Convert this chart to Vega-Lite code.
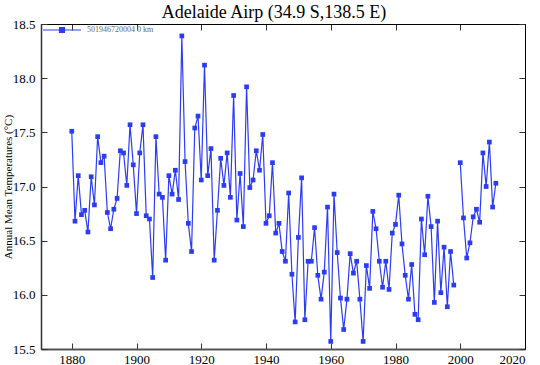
{
  "$schema": "https://vega.github.io/schema/vega-lite/v6.json",
  "width": 484,
  "height": 325,
  "autosize": "none",
  "padding": {"left": 41, "top": 24, "right": 15, "bottom": 16},
  "background": "white",
  "title": {"text": "Adelaide Airp (34.9 S,138.5 E)", "font": "Liberation Serif", "fontSize": 18, "fontWeight": "normal", "color": "black", "offset": -12, "dx": -9},
  "config": {
    "view": {"stroke": "black", "strokeWidth": 1},
    "axis": {"grid": false, "labelFont": "Liberation Serif", "labelFontSize": 13, "labelColor": "black", "titleFont": "Liberation Serif", "titleFontWeight": "normal", "titleColor": "black", "domainColor": "#333", "tickColor": "#333", "tickSize": -6, "tickWidth": 1}
  },
  "data": {"values": [
    {"year": 1880, "temp": 17.51, "station": "501946720004 0 km"},
    {"year": 1881, "temp": 16.68, "station": "501946720004 0 km"},
    {"year": 1882, "temp": 17.10, "station": "501946720004 0 km"},
    {"year": 1883, "temp": 16.74, "station": "501946720004 0 km"},
    {"year": 1884, "temp": 16.78, "station": "501946720004 0 km"},
    {"year": 1885, "temp": 16.58, "station": "501946720004 0 km"},
    {"year": 1886, "temp": 17.09, "station": "501946720004 0 km"},
    {"year": 1887, "temp": 16.83, "station": "501946720004 0 km"},
    {"year": 1888, "temp": 17.46, "station": "501946720004 0 km"},
    {"year": 1889, "temp": 17.22, "station": "501946720004 0 km"},
    {"year": 1890, "temp": 17.28, "station": "501946720004 0 km"},
    {"year": 1891, "temp": 16.76, "station": "501946720004 0 km"},
    {"year": 1892, "temp": 16.61, "station": "501946720004 0 km"},
    {"year": 1893, "temp": 16.79, "station": "501946720004 0 km"},
    {"year": 1894, "temp": 16.89, "station": "501946720004 0 km"},
    {"year": 1895, "temp": 17.33, "station": "501946720004 0 km"},
    {"year": 1896, "temp": 17.31, "station": "501946720004 0 km"},
    {"year": 1897, "temp": 17.01, "station": "501946720004 0 km"},
    {"year": 1898, "temp": 17.57, "station": "501946720004 0 km"},
    {"year": 1899, "temp": 17.20, "station": "501946720004 0 km"},
    {"year": 1900, "temp": 16.75, "station": "501946720004 0 km"},
    {"year": 1901, "temp": 17.31, "station": "501946720004 0 km"},
    {"year": 1902, "temp": 17.57, "station": "501946720004 0 km"},
    {"year": 1903, "temp": 16.73, "station": "501946720004 0 km"},
    {"year": 1904, "temp": 16.70, "station": "501946720004 0 km"},
    {"year": 1905, "temp": 16.16, "station": "501946720004 0 km"},
    {"year": 1906, "temp": 17.46, "station": "501946720004 0 km"},
    {"year": 1907, "temp": 16.93, "station": "501946720004 0 km"},
    {"year": 1908, "temp": 16.90, "station": "501946720004 0 km"},
    {"year": 1909, "temp": 16.32, "station": "501946720004 0 km"},
    {"year": 1910, "temp": 17.10, "station": "501946720004 0 km"},
    {"year": 1911, "temp": 16.93, "station": "501946720004 0 km"},
    {"year": 1912, "temp": 17.15, "station": "501946720004 0 km"},
    {"year": 1913, "temp": 16.88, "station": "501946720004 0 km"},
    {"year": 1914, "temp": 18.39, "station": "501946720004 0 km"},
    {"year": 1915, "temp": 17.23, "station": "501946720004 0 km"},
    {"year": 1916, "temp": 16.66, "station": "501946720004 0 km"},
    {"year": 1917, "temp": 16.40, "station": "501946720004 0 km"},
    {"year": 1918, "temp": 17.54, "station": "501946720004 0 km"},
    {"year": 1919, "temp": 17.65, "station": "501946720004 0 km"},
    {"year": 1920, "temp": 17.06, "station": "501946720004 0 km"},
    {"year": 1921, "temp": 18.12, "station": "501946720004 0 km"},
    {"year": 1922, "temp": 17.10, "station": "501946720004 0 km"},
    {"year": 1923, "temp": 17.35, "station": "501946720004 0 km"},
    {"year": 1924, "temp": 16.32, "station": "501946720004 0 km"},
    {"year": 1925, "temp": 16.78, "station": "501946720004 0 km"},
    {"year": 1926, "temp": 17.26, "station": "501946720004 0 km"},
    {"year": 1927, "temp": 17.01, "station": "501946720004 0 km"},
    {"year": 1928, "temp": 17.31, "station": "501946720004 0 km"},
    {"year": 1929, "temp": 16.90, "station": "501946720004 0 km"},
    {"year": 1930, "temp": 17.84, "station": "501946720004 0 km"},
    {"year": 1931, "temp": 16.69, "station": "501946720004 0 km"},
    {"year": 1932, "temp": 17.12, "station": "501946720004 0 km"},
    {"year": 1933, "temp": 16.63, "station": "501946720004 0 km"},
    {"year": 1934, "temp": 17.92, "station": "501946720004 0 km"},
    {"year": 1935, "temp": 16.99, "station": "501946720004 0 km"},
    {"year": 1936, "temp": 17.06, "station": "501946720004 0 km"},
    {"year": 1937, "temp": 17.33, "station": "501946720004 0 km"},
    {"year": 1938, "temp": 17.15, "station": "501946720004 0 km"},
    {"year": 1939, "temp": 17.48, "station": "501946720004 0 km"},
    {"year": 1940, "temp": 16.66, "station": "501946720004 0 km"},
    {"year": 1941, "temp": 16.73, "station": "501946720004 0 km"},
    {"year": 1942, "temp": 17.22, "station": "501946720004 0 km"},
    {"year": 1943, "temp": 16.57, "station": "501946720004 0 km"},
    {"year": 1944, "temp": 16.66, "station": "501946720004 0 km"},
    {"year": 1945, "temp": 16.40, "station": "501946720004 0 km"},
    {"year": 1946, "temp": 16.31, "station": "501946720004 0 km"},
    {"year": 1947, "temp": 16.94, "station": "501946720004 0 km"},
    {"year": 1948, "temp": 16.19, "station": "501946720004 0 km"},
    {"year": 1949, "temp": 15.75, "station": "501946720004 0 km"},
    {"year": 1950, "temp": 16.53, "station": "501946720004 0 km"},
    {"year": 1951, "temp": 17.08, "station": "501946720004 0 km"},
    {"year": 1952, "temp": 15.77, "station": "501946720004 0 km"},
    {"year": 1953, "temp": 16.31, "station": "501946720004 0 km"},
    {"year": 1954, "temp": 16.31, "station": "501946720004 0 km"},
    {"year": 1955, "temp": 16.62, "station": "501946720004 0 km"},
    {"year": 1956, "temp": 16.18, "station": "501946720004 0 km"},
    {"year": 1957, "temp": 15.96, "station": "501946720004 0 km"},
    {"year": 1958, "temp": 16.21, "station": "501946720004 0 km"},
    {"year": 1959, "temp": 16.81, "station": "501946720004 0 km"},
    {"year": 1960, "temp": 15.57, "station": "501946720004 0 km"},
    {"year": 1961, "temp": 16.93, "station": "501946720004 0 km"},
    {"year": 1962, "temp": 16.39, "station": "501946720004 0 km"},
    {"year": 1963, "temp": 15.97, "station": "501946720004 0 km"},
    {"year": 1964, "temp": 15.68, "station": "501946720004 0 km"},
    {"year": 1965, "temp": 15.96, "station": "501946720004 0 km"},
    {"year": 1966, "temp": 16.38, "station": "501946720004 0 km"},
    {"year": 1967, "temp": 16.20, "station": "501946720004 0 km"},
    {"year": 1968, "temp": 16.31, "station": "501946720004 0 km"},
    {"year": 1969, "temp": 15.96, "station": "501946720004 0 km"},
    {"year": 1970, "temp": 15.57, "station": "501946720004 0 km"},
    {"year": 1971, "temp": 16.27, "station": "501946720004 0 km"},
    {"year": 1972, "temp": 16.06, "station": "501946720004 0 km"},
    {"year": 1973, "temp": 16.77, "station": "501946720004 0 km"},
    {"year": 1974, "temp": 16.61, "station": "501946720004 0 km"},
    {"year": 1975, "temp": 16.31, "station": "501946720004 0 km"},
    {"year": 1976, "temp": 16.07, "station": "501946720004 0 km"},
    {"year": 1977, "temp": 16.31, "station": "501946720004 0 km"},
    {"year": 1978, "temp": 16.05, "station": "501946720004 0 km"},
    {"year": 1979, "temp": 16.57, "station": "501946720004 0 km"},
    {"year": 1980, "temp": 16.65, "station": "501946720004 0 km"},
    {"year": 1981, "temp": 16.92, "station": "501946720004 0 km"},
    {"year": 1982, "temp": 16.47, "station": "501946720004 0 km"},
    {"year": 1983, "temp": 16.18, "station": "501946720004 0 km"},
    {"year": 1984, "temp": 15.96, "station": "501946720004 0 km"},
    {"year": 1985, "temp": 16.28, "station": "501946720004 0 km"},
    {"year": 1986, "temp": 15.82, "station": "501946720004 0 km"},
    {"year": 1987, "temp": 15.77, "station": "501946720004 0 km"},
    {"year": 1988, "temp": 16.70, "station": "501946720004 0 km"},
    {"year": 1989, "temp": 16.37, "station": "501946720004 0 km"},
    {"year": 1990, "temp": 16.91, "station": "501946720004 0 km"},
    {"year": 1991, "temp": 16.63, "station": "501946720004 0 km"},
    {"year": 1992, "temp": 15.93, "station": "501946720004 0 km"},
    {"year": 1993, "temp": 16.68, "station": "501946720004 0 km"},
    {"year": 1994, "temp": 16.02, "station": "501946720004 0 km"},
    {"year": 1995, "temp": 16.44, "station": "501946720004 0 km"},
    {"year": 1996, "temp": 15.89, "station": "501946720004 0 km"},
    {"year": 1997, "temp": 16.40, "station": "501946720004 0 km"},
    {"year": 1998, "temp": 16.09, "station": "501946720004 0 km"},
    {"year": 1999, "temp": null, "station": "501946720004 0 km"},
    {"year": 2000, "temp": 17.22, "station": "501946720004 0 km"},
    {"year": 2001, "temp": 16.71, "station": "501946720004 0 km"},
    {"year": 2002, "temp": 16.34, "station": "501946720004 0 km"},
    {"year": 2003, "temp": 16.48, "station": "501946720004 0 km"},
    {"year": 2004, "temp": 16.72, "station": "501946720004 0 km"},
    {"year": 2005, "temp": 16.79, "station": "501946720004 0 km"},
    {"year": 2006, "temp": 16.67, "station": "501946720004 0 km"},
    {"year": 2007, "temp": 17.31, "station": "501946720004 0 km"},
    {"year": 2008, "temp": 17.00, "station": "501946720004 0 km"},
    {"year": 2009, "temp": 17.41, "station": "501946720004 0 km"},
    {"year": 2010, "temp": 16.81, "station": "501946720004 0 km"},
    {"year": 2011, "temp": 17.03, "station": "501946720004 0 km"}
  ]},
  "layer": [
    {
      "mark": {"type": "line", "strokeWidth": 1.2, "invalid": "break-paths-show-domains", "point": {"shape": "square", "size": 22, "filled": true}},
      "encoding": {
        "x": {"field": "year", "type": "quantitative", "scale": {"domain": [1870.5, 2020], "nice": false, "zero": false},
              "axis": {"orient": "bottom", "values": [1880, 1900, 1920, 1940, 1960, 1980, 2000, 2020], "format": "d", "title": null, "labelPadding": 10, "domainWidth": 2, "domainColor": "#555"}},
        "y": {"field": "temp", "type": "quantitative", "scale": {"domain": [15.5, 18.5], "nice": false, "zero": false},
              "axis": {"orient": "left", "values": [15.5, 16, 16.5, 17, 17.5, 18, 18.5], "format": ".1f", "title": "Annual Mean Temperatures (°C)", "titleFontSize": 11, "titlePadding": -1, "labelPadding": 12, "domainWidth": 1.5}},
        "color": {"field": "station", "type": "nominal", "scale": {"range": ["#2b3cf5"]},
                  "legend": {"title": null, "orient": "none", "legendX": 1, "legendY": -14, "symbolType": "M-1,0H1M-0.13,-0.13H0.13V0.13H-0.13Z", "symbolSize": 1444, "symbolStrokeWidth": 1.2, "symbolFillColor": "#2b3cf5", "symbolStrokeColor": "#2b3cf5", "labelFont": "Liberation Serif", "labelFontSize": 8, "labelColor": "#666", "labelOffset": 5, "padding": 0}}
      }
    },
    {
      "mark": {"type": "line", "opacity": 0},
      "encoding": {
        "x": {"field": "year", "type": "quantitative", "scale": {"domain": [1870.5, 2020], "nice": false, "zero": false},
              "axis": {"orient": "top", "values": [1880, 1900, 1920, 1940, 1960, 1980, 2000, 2020], "labels": false, "title": null, "domainColor": "black"}},
        "y": {"field": "temp", "type": "quantitative", "scale": {"domain": [15.5, 18.5], "nice": false, "zero": false},
              "axis": {"orient": "right", "values": [15.5, 16, 16.5, 17, 17.5, 18, 18.5], "labels": false, "title": null, "domainColor": "black"}}
      }
    }
  ],
  "resolve": {"axis": {"x": "independent", "y": "independent"}}
}
